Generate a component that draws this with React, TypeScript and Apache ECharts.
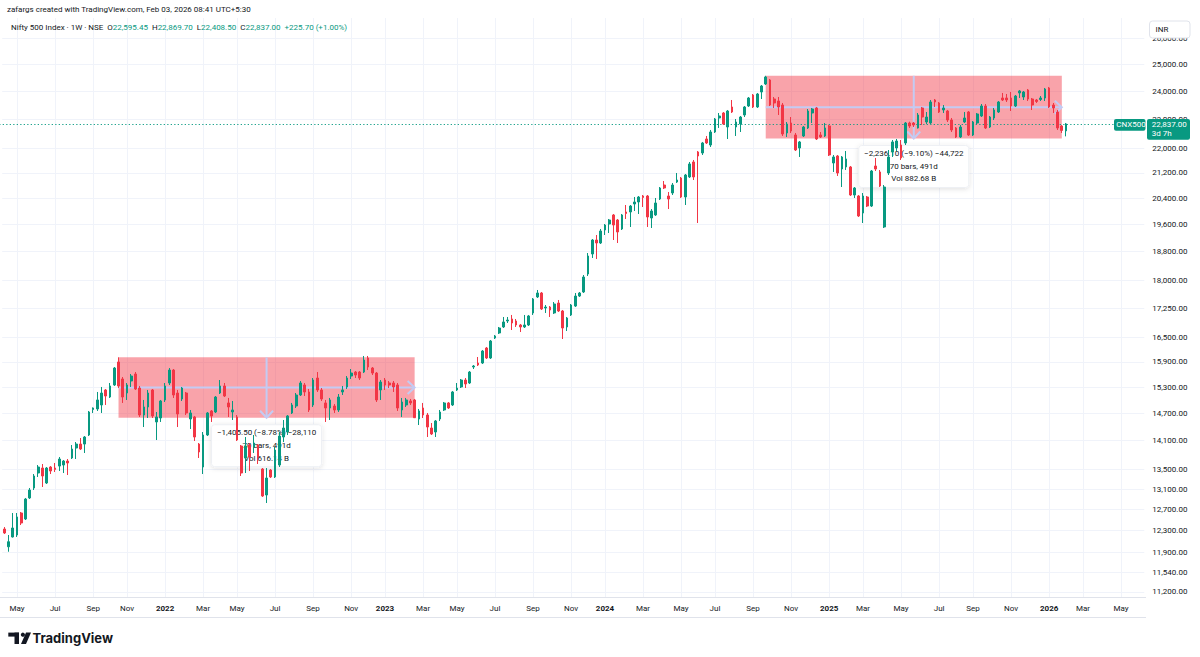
import React, { useEffect, useRef } from "react";
import * as echarts from "echarts";

// ---------------- data ----------------
const firstWeek = "2021-04-12";
const weekCount = 270; // traded weeks + empty weeks up to the right edge

const opens = [
  12327, 11998, 12178, 12215, 12631, 12516, 12923, 13121, 13424, 13526,
  13221, 13547, 13526, 13567, 13588, 13671, 13734, 13944, 14029, 14029,
  14223, 14786, 14798, 14888, 15232, 15070, 15348, 15895, 15489, 15162,
  15442, 15607, 15278, 14663, 14843, 15232, 14508, 14596, 15002, 15395,
  15702, 15162, 15025, 15162, 14574, 14619, 14029, 13547, 14223, 14753,
  14730, 15162, 15325, 14934, 14730, 14619, 13987, 13734, 14008, 13965,
  14008, 13506, 12982, 13485, 13343, 13588, 14180, 14288, 14708, 14865,
  15116, 15348, 15186, 14888, 15512, 15232, 14934, 14820, 14865, 14775,
  15186, 15302, 15559, 15654, 15654, 15654, 15992, 15750, 15630, 15232,
  15465, 15395, 15395, 15348, 14775, 14888, 14979, 15002, 14574, 14820,
  14663, 14375, 14288, 14574, 14775, 14934, 14888, 15232, 15302, 15465,
  15395, 15774, 15870, 15870, 16237, 15992, 16486, 16612, 16765, 16918,
  16970, 16918, 16816, 16765, 16816, 17126, 17548, 17655, 17256, 17282,
  17126, 17388, 17178, 16765, 17074, 17308, 17574, 17682, 18173, 18735,
  19138, 19051, 19432, 19610, 19881, 19730, 19462, 19972, 19972, 20216,
  20278, 20464, 20464, 19790, 19881, 20371, 20809, 20464, 20558, 20904,
  21032, 20433, 21065, 21551, 21882, 21848, 22319, 22116, 22558, 23044,
  23220, 22730, 23433, 22730, 22834, 23149, 23468, 23865, 23433, 23974,
  24268, 24416, 23720, 23648, 23504, 22524, 22869, 22455, 22015, 22421,
  22696, 23220, 23397, 22455, 22421, 22765, 21518, 21749, 21322, 21388,
  21388, 20495, 20464, 19941, 20433, 20154, 21420, 21226, 19521, 21193,
  21882, 22015, 22116, 22184, 22869, 22869, 22696, 23397, 22904, 22869,
  23684, 23576, 23326, 23290, 22974, 22696, 22387, 22904, 23255, 22455,
  22869, 23114, 23468, 22730, 23044, 23255, 23756, 23756, 23756, 23468,
  23938, 23792, 24047, 23720, 23684, 23702, 23756, 24121, 23504, 23255,
  22765, 22595.45,
];
const highs = [
  12364, 12215, 12631, 12631, 12650, 12923, 13121, 13403, 13588, 13609,
  13547, 13567, 13630, 13755, 13692, 13713, 14008, 14072, 14158, 14201,
  14753, 14832, 15186, 15302, 15255, 15395, 15774, 16008, 15536, 15395,
  15607, 15654, 15325, 15002, 15232, 15255, 14730, 15002, 15395, 15750,
  15726, 15232, 15302, 15186, 14775, 14641, 14051, 14288, 14730, 14775,
  15093, 15465, 15395, 15048, 14979, 14663, 14008, 14180, 14051, 14223,
  14029, 13526, 13526, 13506, 13965, 14288, 14552, 14663, 14934, 15162,
  15442, 15395, 15255, 15512, 15654, 15278, 15002, 15048, 14911, 15139,
  15325, 15559, 15726, 15678, 15678, 16041, 16041, 15774, 15654, 15465,
  15512, 15442, 15442, 15395, 15048, 15048, 15025, 15025, 14798, 14934,
  14708, 14485, 14552, 14775, 14956, 14956, 15209, 15395, 15489, 15512,
  15678, 15822, 16016, 16188, 16262, 16436, 16562, 16765, 17022, 17022,
  17074, 16970, 16842, 17074, 17074, 17521, 17736, 17682, 17335, 17308,
  17415, 17468, 17204, 17022, 17362, 17655, 17682, 18145, 18763, 19167,
  19284, 19462, 19610, 19760, 19911, 19760, 19911, 20185, 20185, 20433,
  20464, 20495, 20495, 20062, 20402, 20746, 20936, 20589, 20873, 21193,
  21065, 21161, 21551, 21617, 21915, 22218, 22421, 22627, 23044, 23220,
  23255, 23326, 23684, 23009, 23114, 23468, 23792, 23901, 23938, 24231,
  24572.1, 24453, 23792, 23792, 23576, 22904, 23078, 22524, 22251, 22765,
  23361, 23397, 23433, 22558, 22869, 22799, 21782, 21782, 21749, 21915,
  21420, 20746, 20495, 20558, 20464, 21290, 21683, 21290, 20809, 21948,
  22285, 22319, 22285, 22904, 22914, 22904, 23220, 23433, 23255, 23684,
  23720, 23612, 23504, 23326, 23044, 22730, 22799, 23255, 23290, 22939,
  23220, 23540, 23540, 23114, 23397, 23648, 23938, 23901, 23974, 23865,
  24047, 24011, 24084, 23756, 23720, 23828, 24121, 24158, 23576, 23326,
  22799, 22869.7,
];
const lows = [
  12234, 11908, 12169, 12178, 12402, 12497, 12903, 13081, 13343, 13141,
  13201, 13403, 13444, 13465, 13424, 13383, 13713, 13713, 13902, 13839,
  14201, 14708, 14753, 14708, 14888, 15048, 15325, 15278, 14934, 15002,
  15302, 15232, 14619, 14397, 14596, 14596, 14115, 14508, 14956, 15348,
  15048, 14397, 14979, 14663, 14354, 14094, 13734, 13403, 14201, 14508,
  14708, 15139, 15070, 14619, 14552, 14094, 13363, 13424, 13465, 13839,
  13609, 12943, 12825, 13322, 13322, 13547, 14072, 14223, 14685, 14820,
  15093, 15093, 14730, 14843, 15186, 14979, 14508, 14552, 14708, 14730,
  15116, 15255, 15489, 15512, 15465, 15630, 15702, 15583, 14956, 15002,
  15232, 15278, 15186, 14753, 14619, 14843, 14888, 14596, 14441, 14596,
  14180, 14223, 14180, 14530, 14753, 14798, 14865, 15209, 15278, 15278,
  15372, 15726, 15798, 15846, 15968, 15968, 16461, 16587, 16739, 16867,
  16688, 16765, 16637, 16739, 16790, 17074, 17521, 17204, 17126, 17022,
  17100, 17152, 16461, 16663, 17048, 17282, 17548, 17655, 18118, 18621,
  18592, 19022, 19284, 19343, 19138, 19051, 19432, 19760, 19521, 20002,
  19911, 20124, 19521, 19491, 19851, 20340, 20683, 20062, 20495, 20873,
  20402, 20185, 21032, 20968, 19640, 21782, 22150, 22049, 22524, 22696,
  22799, 22319, 23220, 22421, 22558, 23078, 23433, 23397, 23397, 23720,
  24231, 23468, 23397, 23149, 22421, 22387, 22524, 21915, 21716, 22387,
  22661, 22869, 22285, 22353, 22387, 21749, 21226, 21097, 20746, 21290,
  20464, 20402, 19820, 19640, 20124, 20124, 21258, 20746, 19491, 21129,
  21716, 21915, 21617, 22116, 22696, 22730, 22678, 22799, 22834, 22834,
  23433, 23220, 23220, 22904, 22558, 22353, 22353, 22869, 22421, 22421,
  22834, 23078, 22661, 22696, 22974, 23220, 23648, 23612, 23290, 23433,
  23756, 23684, 23648, 23326, 23576, 23648, 23648, 23397, 23220, 22627,
  22524, 22408.5,
];
const closes = [
  12252, 12091, 12346, 12555, 12440, 12903, 13081, 13363, 13547, 13363,
  13526, 13465, 13495, 13713, 13671, 13630, 13923, 14029, 13923, 14180,
  14730, 14820, 15002, 15162, 15093, 15325, 15750, 15325, 15070, 15348,
  15559, 15255, 14663, 14843, 15162, 14641, 14619, 14979, 15325, 15702,
  15116, 14685, 15278, 14708, 14708, 14180, 13860, 14223, 14708, 14641,
  15070, 15325, 15093, 14843, 14775, 14115, 13424, 13987, 13755, 14051,
  13755, 12962, 13322, 13343, 13902, 14201, 14375, 14641, 14888, 15116,
  15395, 15186, 14775, 15465, 15232, 15025, 14820, 15002, 14775, 15070,
  15232, 15512, 15630, 15583, 15512, 15943, 15774, 15630, 15002, 15418,
  15348, 15348, 15302, 14820, 14956, 15002, 14934, 14602.5, 14753, 14663,
  14397, 14245, 14530, 14730, 14934, 14820, 15186, 15278, 15465, 15372,
  15654, 15798, 15822, 16163, 15992, 16411, 16537, 16739, 16893, 16944,
  16867, 16816, 16765, 16816, 17048, 17495, 17655, 17230, 17282, 17204,
  17362, 17178, 16739, 16996, 17335, 17574, 17655, 18090, 18678, 19138,
  19051, 19402, 19580, 19730, 19580, 19373, 19881, 19926, 20154, 20278,
  20433, 20418, 19820, 20002, 20247, 20715, 20715, 20371, 20809, 20968,
  20433, 21129, 21486, 21065, 21749, 22184, 22184, 22558, 23009, 23114,
  22834, 23290, 23255, 22904, 23078, 23433, 23756, 23433, 23901, 24194,
  24528, 23504, 23576, 23433, 22489, 22834, 22593, 21948, 22218, 22730,
  23290, 23361, 22319, 22387, 22696, 21782, 21716, 21193, 21716, 21650,
  20495, 20715, 19851, 20464, 20154, 21258, 21322, 20778, 20746, 21716,
  22218, 22251, 21683, 22869, 22765, 22799, 23149, 23078, 23078, 23612,
  23612, 23255, 23397, 22974, 22627, 22387, 22730, 23044, 22455, 22904,
  23185, 23468, 22696, 23078, 23326, 23612, 23684, 23684, 23468, 23828,
  24011, 23974, 23720, 23504, 23630, 23756, 24084, 23433, 23397, 22696,
  22611.3, 22837.0,
];

const priceTicks = [
  11200, 11540, 11900, 12300, 12700, 13100, 13500, 14100, 14700, 15300, 15900,
  16500, 17250, 18000, 18800, 19600, 20400, 21200, 22000, 23000, 24000, 25000, 26000,
];
const priceAxisMin = 11115;
const priceAxisMax = 26832;

const rangeStartBar = [27, 180];
const rangeEndBar = [97, 250];
const rangeTopPrice = [16008, 24572.1];
const rangeBottomPrice = [14602.5, 22336];
const rangeDays = ["491d", "491d"];
const rangeVolume = ["616.14 B", "882.68 B"];
const tickSize = 0.05;

const creditLine = "zafargs created with TradingView.com, Feb 03, 2026 08:41 UTC+5:30";
const symbolName = "Nifty 500 Index \u00b7 1W \u00b7 NSE";
const tickerTag = "CNX500";
const barCountdown = "3d 7h";
const currency = "INR";
const monthNames = ["Jan", "Feb", "Mar", "Apr", "May", "Jun", "Jul", "Aug", "Sep", "Oct", "Nov", "Dec"];

// ---------------- helpers ----------------
const weeks: string[] = [];
{
  const t0 = Date.parse(firstWeek + "T00:00:00Z");
  for (let i = 0; i < weekCount; i++) weeks.push(new Date(t0 + i * 604800000).toISOString().slice(0, 10));
}
const parseDay = (v: string) => new Date(v + "T00:00:00Z");
const isLabelWeek = (_i: number, v: string) => {
  const d = parseDay(v);
  return d.getUTCDate() <= 7 && d.getUTCMonth() % 2 === 0;
};
const fmt2 = (v: number) => v.toLocaleString("en-US", { minimumFractionDigits: 2, maximumFractionDigits: 2 });
const signed = (v: number, f: (x: number) => string) => (v < 0 ? "\u2212" : "+") + f(Math.abs(v));

const GREEN = "#089981";
const RED = "#F23645";
const TEXT = "#131722";
const GRIDC = "#f0f3fa";
const BORDER = "#e0e3eb";
const PINK = "rgba(242,54,69,0.46)";
const LAV = "#c3cbf3";
const FONT = "Roboto, 'Noto Sans', sans-serif";

const tickLn = priceTicks.map((p) => Math.log(p));
const candleData = opens.map((o, i) => [Math.log(o), Math.log(closes[i]), Math.log(lows[i]), Math.log(highs[i])]);
const last = opens.length - 1;
const lastClose = closes[last];
const prevClose = closes[last - 1];

function rangeItem(params: any, api: any) {
  const k = api.value(4) as number;
  const a = api.coord([api.value(0), api.value(2)]);
  const b = api.coord([api.value(1), api.value(3)]);
  const x0 = a[0], y0 = a[1], x1 = b[0], y1 = b[1];
  const mx = (x0 + x1) / 2;
  const my = (y0 + y1) / 2;
  const top = rangeTopPrice[k];
  const diff = rangeBottomPrice[k] - top;
  const l1 =
    signed(diff, fmt2) +
    " (" + signed((diff / top) * 100, (x) => x.toFixed(2)) + "%) " +
    signed(Math.round(diff / tickSize), (x) => x.toLocaleString("en-US"));
  const l2 = `${rangeEndBar[k] - rangeStartBar[k]} bars, ${rangeDays[k]}`;
  const l3 = `Vol ${rangeVolume[k]}`;
  const tw = 110, th = 42, ty = y1 + 7;
  const txt = (t: string, y: number) => ({
    type: "text",
    x: mx,
    y,
    style: {
      text: t, fill: TEXT, font: `8px ${FONT}`,
      align: "center", verticalAlign: "middle", textAlign: "center", textVerticalAlign: "middle",
    },
  });
  const ln = { stroke: LAV, lineWidth: 2, fill: "none" };
  return {
    type: "group",
    children: [
      { type: "rect", shape: { x: x0, y: y0, width: x1 - x0, height: y1 - y0 }, style: { fill: PINK } },
      { type: "line", shape: { x1: x0, y1: my, x2: x1, y2: my }, style: ln },
      { type: "line", shape: { x1: mx, y1: y0, x2: mx, y2: y1 }, style: ln },
      { type: "polyline", shape: { points: [[x1 - 7, my - 6.5], [x1, my], [x1 - 7, my + 6.5]] }, style: ln },
      { type: "polyline", shape: { points: [[mx - 6.5, y1 - 7], [mx, y1], [mx + 6.5, y1 - 7]] }, style: ln },
      {
        type: "rect",
        shape: { x: mx - tw / 2, y: ty, width: tw, height: th, r: 3 },
        style: { fill: "rgba(255,255,255,0.96)", stroke: "#eef0f4", lineWidth: 1, shadowBlur: 5, shadowColor: "rgba(0,0,0,0.13)", shadowOffsetY: 1 },
      },
      txt(l1, ty + 8),
      txt(l2, ty + 21),
      txt(l3, ty + 33.5),
    ],
  };
}

// dotted last-price line across the pane, placed through the y scale
function priceLineItem(params: any, api: any) {
  const cs = params.coordSys;
  const y = Math.round(api.coord([0, api.value(0)])[1]) + 0.5;
  return {
    type: "line",
    shape: { x1: cs.x - 3, y1: y, x2: cs.x + cs.width, y2: y },
    style: { stroke: GREEN, lineWidth: 1, lineDash: [1.3, 2.2], opacity: 0.9 },
  };
}

const option: any = {
  animation: false,
  backgroundColor: "#ffffff",
  grid: { left: 2.2, top: 18, width: 1142.1, height: 579, containLabel: false, outerBoundsMode: "none" },
  xAxis: {
    type: "category",
    data: weeks,
    boundaryGap: true,
    axisLine: { show: false },
    axisTick: { show: false, alignWithLabel: true, interval: isLabelWeek },
    axisLabel: {
      interval: isLabelWeek,
      margin: 7,
      color: TEXT,
      fontSize: 8,
      fontFamily: FONT,
      formatter: (v: string) => {
        const d = parseDay(v);
        return d.getUTCMonth() === 0 ? `{y|${d.getUTCFullYear()}}` : monthNames[d.getUTCMonth()];
      },
      rich: { y: { fontWeight: "bold", fontSize: 8, fontFamily: FONT, color: TEXT } },
    },
    splitLine: { show: true, interval: isLabelWeek, alignWithLabel: true, lineStyle: { color: GRIDC, width: 1 } },
  },
  yAxis: {
    type: "value",
    position: "right",
    min: Math.log(priceAxisMin),
    max: Math.log(priceAxisMax),
    axisLine: { show: false },
    axisTick: { show: false, customValues: tickLn },
    axisLabel: {
      customValues: tickLn,
      margin: 8,
      color: TEXT,
      fontSize: 8,
      fontFamily: FONT,
      formatter: (v: number) => fmt2(Math.round(Math.exp(v) * 100) / 100),
    },
    splitLine: { show: true, customValues: tickLn, lineStyle: { color: GRIDC, width: 1 } },
  },
  series: [
    {
      type: "custom",
      z: 1,
      silent: true,
      clip: false,
      renderItem: rangeItem,
      encode: { x: [0, 1], y: [2, 3] },
      data: rangeStartBar.map((s, k) => [s, rangeEndBar[k], Math.log(rangeTopPrice[k]), Math.log(rangeBottomPrice[k]), k]),
    },
    {
      type: "custom",
      z: 1.5,
      silent: true,
      clip: false,
      renderItem: priceLineItem,
      encode: { y: 0 },
      data: [[Math.log(lastClose)]],
    },
    {
      type: "candlestick",
      z: 2,
      barWidth: 2.2,
      data: candleData,
      itemStyle: { color: GREEN, color0: RED, borderColor: GREEN, borderColor0: RED, borderWidth: 1 },
    },
  ],
};

export default function App() {
  const ref = useRef<HTMLDivElement>(null);
  useEffect(() => {
    if (!ref.current) return;
    const chart = echarts.init(ref.current, null, { renderer: "svg" });
    chart.setOption(option);
    const yl = chart.convertToPixel({ yAxisIndex: 0 }, Math.log(lastClose)) as number;
    const chg = lastClose - prevClose;
    const header =
      `{d|${symbolName}}  {d|O}{g|${fmt2(opens[last])}}  {d|H}{g|${fmt2(highs[last])}}  ` +
      `{d|L}{g|${fmt2(lows[last])}}  {d|C}{g|${fmt2(lastClose)}}  ` +
      `{g|${signed(chg, fmt2)} (${signed((chg / prevClose) * 100, (x) => x.toFixed(2))}%)}`;
    const t = (text: string, x: number, y: number, fill = TEXT, extra: any = {}) => ({
      type: "text",
      x,
      y,
      z: 100,
      style: { text, fill, font: `8px ${FONT}`, verticalAlign: "middle", textVerticalAlign: "middle", ...extra },
    });
    chart.setOption({
      graphic: {
        elements: [
          t(creditLine, 7, 9.5),
          {
            type: "text",
            x: 11,
            y: 27.5,
            z: 100,
            style: {
              text: header,
              font: `8px ${FONT}`,
              fill: TEXT,
              verticalAlign: "middle",
              textVerticalAlign: "middle",
              rich: {
                d: { fill: TEXT, color: TEXT, fontSize: 8, fontFamily: FONT },
                g: { fill: GREEN, color: GREEN, fontSize: 8, fontFamily: FONT },
              },
            },
          },
          { type: "line", z: 100, shape: { x1: 0, y1: 597.5, x2: 1146, y2: 597.5 }, style: { stroke: BORDER, lineWidth: 1 } },
          { type: "line", z: 100, shape: { x1: 0, y1: 617.5, x2: 1146, y2: 617.5 }, style: { stroke: BORDER, lineWidth: 1 } },
          { type: "rect", z: 100, shape: { x: 1149.5, y: 21, width: 40.5, height: 17, r: 3 }, style: { fill: "#ffffff", stroke: BORDER, lineWidth: 1 } },
          t(currency, 1155.5, 29.5),
          { type: "rect", z: 100, shape: { x: 1114, y: yl - 4.8, width: 31.5, height: 11.6, r: 2 }, style: { fill: GREEN } },
          t(tickerTag, 1116.3, yl + 1, "#ffffff"),
          { type: "rect", z: 100, shape: { x: 1147, y: yl - 4.8, width: 43, height: 20.6, r: 2 }, style: { fill: GREEN } },
          t(fmt2(lastClose), 1151.7, yl + 0.6, "#ffffff"),
          t(barCountdown, 1151.7, yl + 9.6, "#ffffff"),
          // TradingView logo
          { type: "rect", z: 100, shape: { x: 8.3, y: 632.6, width: 10.7, height: 4 }, style: { fill: TEXT } },
          { type: "rect", z: 100, shape: { x: 14.5, y: 632.6, width: 4.5, height: 11.4 }, style: { fill: TEXT } },
          { type: "circle", z: 100, shape: { cx: 22.9, cy: 634.7, r: 2.1 }, style: { fill: TEXT } },
          { type: "polygon", z: 100, shape: { points: [[26, 632.6], [31, 632.6], [26, 644], [21, 644]] }, style: { fill: TEXT } },
          {
            type: "text",
            x: 32.5,
            y: 638.3,
            z: 100,
            style: { text: "TradingView", fill: TEXT, font: `bold 13px Inter, Roboto, sans-serif`, verticalAlign: "middle", textVerticalAlign: "middle" },
          },
        ],
      },
    });
    return () => chart.dispose();
  }, []);
  return <div ref={ref} style={{ position: "absolute", left: 0, top: 0, width: 1200, height: 657, background: "#ffffff" }} />;
}
